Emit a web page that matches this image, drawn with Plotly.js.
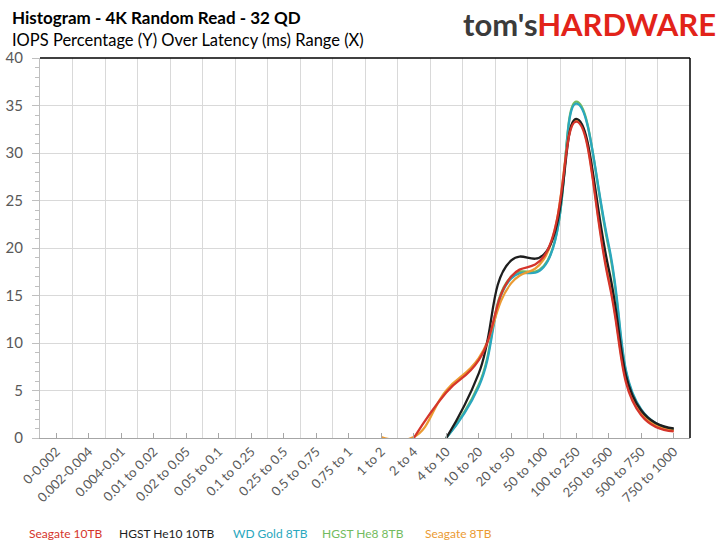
<!DOCTYPE html>
<html>
<head>
<meta charset="utf-8">
<script src="https://cdn.plot.ly/plotly-3.0.1.min.js"></script>
<style>html,body{margin:0;padding:0;background:#fff;}#chart{width:728px;height:548px;}</style>
</head>
<body>
<div id="chart"></div>
<script>
const categories = ["0-0.002","0.002-0.004","0.004-0.01","0.01 to 0.02","0.02 to 0.05","0.05 to 0.1","0.1 to 0.25","0.25 to 0.5","0.5 to 0.75","0.75 to 1","1 to 2","2 to 4","4 to 10","10 to 20","20 to 50","50 to 100","100 to 250","250 to 500","500 to 750","750 to 1000"];
const seriesNames = ["Seagate 10TB","HGST He10 10TB","WD Gold 8TB","HGST He8 8TB","Seagate 8TB"];
const seriesColors = ["#d5352b","#1e1e1e","#2aa7be","#72bb5e","#eb9b33"];
const seagate10 = [null,null,null,null,null,null,null,null,null,null,null,0,4.8,8.2,17.0,19.1,33.3,16.5,2.4,0.7];
const hgstHe10  = [null,null,null,null,null,null,null,null,null,null,null,null,0,6.8,18.7,19.3,33.6,17.8,2.9,1.0];
const wdGold8   = [null,null,null,null,null,null,null,null,null,null,null,null,0,5.4,16.8,18.0,35.2,20.3,3.0,0.9];
const hgstHe8   = [null,null,null,null,null,null,null,null,null,null,null,null,0,5.6,17.0,18.1,35.4,20.0,2.9,0.9];
const seagate8  = [null,null,null,null,null,null,null,null,null,null,0.1,0.1,5.0,8.4,16.3,18.8,33.5,16.8,2.6,0.8];
const seriesValues = [seagate10, hgstHe10, wdGold8, hgstHe8, seagate8];
const drawOrder = [3,2,4,1,0];
const yTicks = [0,5,10,15,20,25,30,35,40];

const idx = categories.map((c,i)=>i);
const traces = drawOrder.map(k => ({
  x: idx, y: seriesValues[k], type: 'scatter', mode: 'lines', name: seriesNames[k],
  line: {color: seriesColors[k], width: 2.3, shape: 'spline', smoothing: 1.3},
  connectgaps: false, hoverinfo: 'skip'
}));
// carrier for the between-category gridline axis
traces.push({x: idx, y: idx.map(()=>null), xaxis: 'x2', type: 'scatter', mode: 'lines', showlegend: false, hoverinfo: 'skip'});

const W = 728, H = 548, mL = 40, mR = 38, mT = 58, mB = 110;
const pw = W - mL - mR, ph = H - mT - mB;
function px2paperX(px){ return (px - mL)/pw; }
function px2paperY(py){ return (H - mB - py)/ph; }

const annotations = [
  {text: "<b>Histogram - 4K Random Read - 32 QD</b>", x: 10, y: 17, xanchor: 'left', font: {family: 'Lato', size: 17, color: '#000'}},
  {text: "IOPS Percentage (Y) Over Latency (ms) Range (X)", x: 10, y: 40, xanchor: 'left', font: {family: 'Lato', size: 16.5, color: '#000'}},
  {text: "<b><span style='color:#3b3b3b'>tom's</span><span style='color:#e2231a'>HARDWARE</span></b>", x: 718, y: 24, xanchor: 'right', font: {family: 'Lato', size: 31}}
].map(a => Object.assign({}, a, {xref: 'paper', yref: 'paper', yanchor: 'middle', showarrow: false, x: px2paperX(a.x), y: px2paperY(a.y)}));

const legendCenters = [66,167,270,363,458];
seriesNames.forEach((n,i) => annotations.push({
  text: n, xref: 'paper', yref: 'paper', x: px2paperX(legendCenters[i]), y: px2paperY(533),
  xanchor: 'center', yanchor: 'middle', showarrow: false,
  font: {family: 'Lato', size: 12, color: seriesColors[i]}
}));

const layout = {
  width: W, height: H,
  margin: {l: mL, r: mR, t: mT, b: mB},
  paper_bgcolor: '#fff', plot_bgcolor: '#fff',
  showlegend: false,
  xaxis: {
    range: [-0.5, 19.5], tickmode: 'array', tickvals: idx, ticktext: categories,
    tickangle: -45, showgrid: false, zeroline: false,
    showline: true, linecolor: '#a6a6a6', linewidth: 1,
    ticks: 'inside', ticklen: 5, tickcolor: '#a6a6a6',
    tickfont: {family: 'Lato', size: 13, color: '#595959'}
  },
  xaxis2: {
    overlaying: 'x', range: [-0.5, 19.5], tickmode: 'array',
    tickvals: idx.slice(0,19).map(i => i + 0.5),
    showgrid: true, gridcolor: '#d9d9d9', gridwidth: 1,
    showticklabels: false, ticks: '', zeroline: false, showline: false
  },
  yaxis: {
    range: [0, 40], tickmode: 'array', tickvals: yTicks,
    showgrid: true, gridcolor: '#d9d9d9', gridwidth: 1, zeroline: false,
    showline: true, linecolor: '#bfbfbf', linewidth: 1,
    ticks: 'outside', ticklen: 7, tickcolor: '#bfbfbf',
    minor: {dtick: 1, ticks: 'outside', ticklen: 4, tickcolor: '#bfbfbf', showgrid: false},
    tickfont: {family: 'Lato', size: 15, color: '#595959'}, ticklabelstandoff: 6
  },
  shapes: [
    {type: 'line', xref: 'paper', yref: 'paper', x0: 0, x1: 1, y0: 1, y1: 1, line: {color: '#000', width: 1.5}},
    {type: 'line', xref: 'paper', yref: 'paper', x0: 1, x1: 1, y0: 0, y1: 1, line: {color: '#000', width: 1.5}}
  ],
  annotations: annotations
};

Plotly.newPlot('chart', traces, layout, {displayModeBar: false, staticPlot: true});
</script>
</body>
</html>
